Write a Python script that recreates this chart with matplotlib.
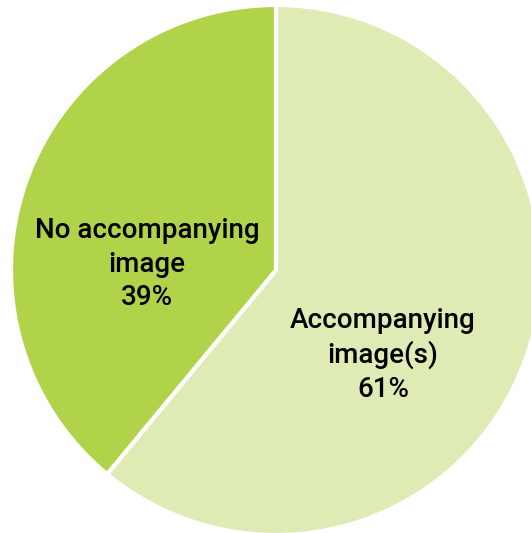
import matplotlib.pyplot as plt

labels = ["Accompanying\nimage(s)", "No accompanying\nimage"]
shares = [61, 39]
colors = ["#DEEBB5", "#B0D34A"]

fig = plt.figure(figsize=(5.31, 5.33), dpi=100)
ax = fig.add_axes([0, 0, 1, 1])

wedges, _ = ax.pie(shares, colors=colors, startangle=90, counterclock=False,
                   center=(276, 263), radius=265,
                   wedgeprops=dict(edgecolor="white", linewidth=3))

# pie() sets its own limits, so fix them afterwards
ax.set_xlim(0, 531)
ax.set_ylim(0, 533)
ax.set_aspect("equal")
ax.axis("off")

# label positions inside each slice
label_pos = [(383, 178), (147, 269)]
for lab, val, (x, y) in zip(labels, shares, label_pos):
    ax.text(x, y, f"{lab}\n{val}%", ha="center", va="center",
            fontsize=20, family="Roboto", fontweight="medium",
            linespacing=1.3)

plt.savefig("out.png", dpi=100)
